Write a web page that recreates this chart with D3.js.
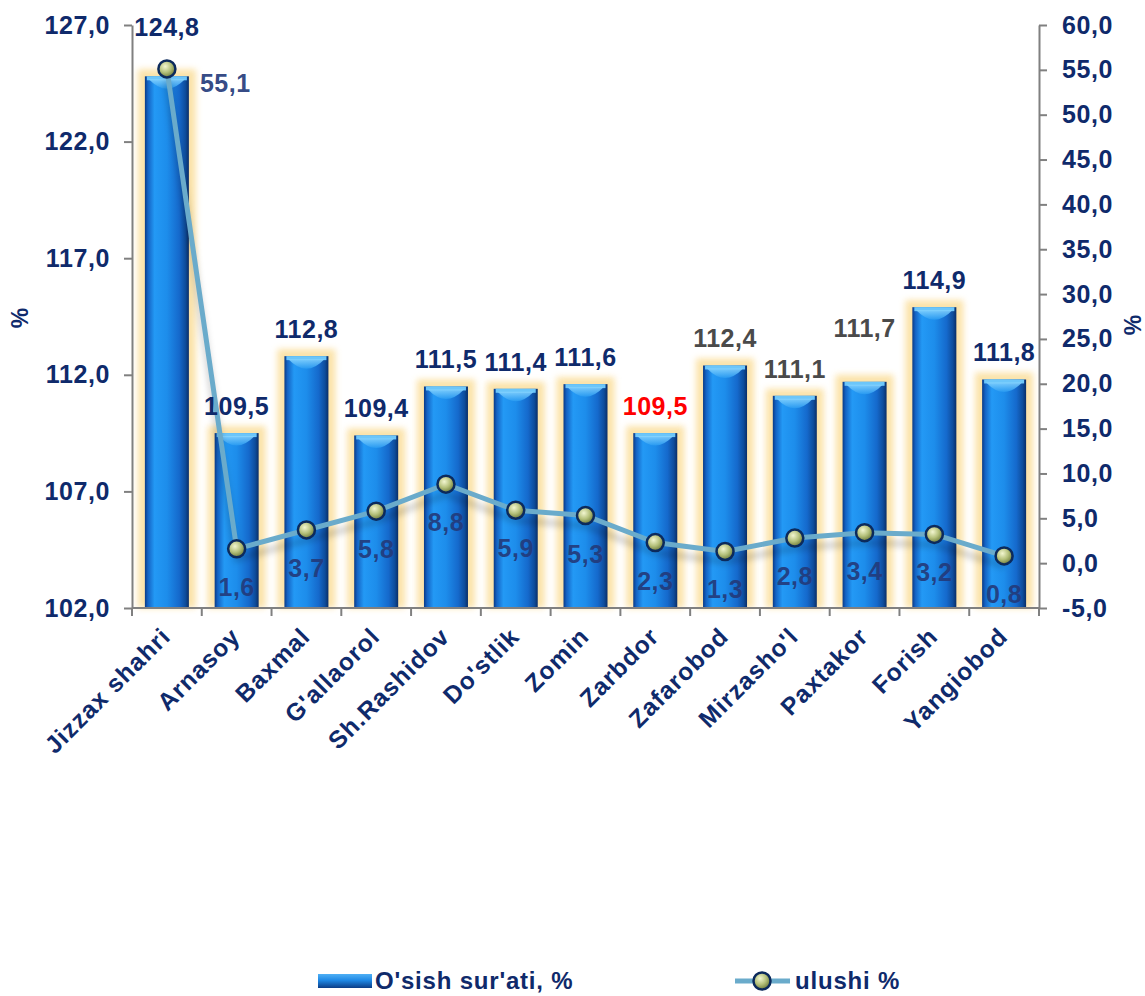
<!DOCTYPE html>
<html>
<head>
<meta charset="utf-8">
<script src="https://cdn.jsdelivr.net/npm/d3@7"></script>
<style>
  html, body { margin: 0; padding: 0; background: #ffffff; }
  svg { display: block; font-family: "Liberation Sans", Arial, sans-serif; font-weight: bold; }
</style>
</head>
<body>
<svg id="chart" width="1145" height="996"></svg>
<script>
// ---- data ----
const categories = ["Jizzax shahri", "Arnasoy", "Baxmal", "G'allaorol", "Sh.Rashidov", "Do'stlik", "Zomin", "Zarbdor", "Zafarobod", "Mirzasho'l", "Paxtakor", "Forish", "Yangiobod"];
const growthRate = [124.8, 109.5, 112.8, 109.4, 111.5, 111.4, 111.6, 109.5, 112.4, 111.1, 111.7, 114.9, 111.8];
const shareValues = [55.1, 1.6, 3.7, 5.8, 8.8, 5.9, 5.3, 2.3, 1.3, 2.8, 3.4, 3.2, 0.8];
const leftTickValues = [102, 107, 112, 117, 122, 127];
const rightTickValues = [-5, 0, 5, 10, 15, 20, 25, 30, 35, 40, 45, 50, 55, 60];
const seriesNames = ["O'sish sur'ati, %", "ulushi %"];
const axisTitle = "%";

// ---- style config ----
const navy = "#0f2a6b";
const grayLabel = "#4a4a4a";
const redLabel = "#ff0000";
const lineColor = "#6aabcb";
const grayLabelCats = new Set(["Zafarobod", "Mirzasho'l", "Paxtakor"]);
const redLabelCats = new Set(["Zarbdor"]);
const barLabelNudge = { "Jizzax shahri": -22, "Paxtakor": -27 };

const fmt = v => v.toFixed(1).replace(".", ",");

const margin = { left: 132, right: 1145 - 1039, top: 25, bottom: 996 - 608 };
const W = 1145, H = 996;
const svg = d3.select("#chart");

const x = d3.scaleBand().domain(categories).range([margin.left, W - margin.right]).paddingInner(0).paddingOuter(0);
const yL = d3.scaleLinear().domain([102, 127]).range([H - margin.bottom, margin.top]);
const yR = d3.scaleLinear().domain([-5, 60]).range([H - margin.bottom, margin.top]);

// ---- defs ----
const defs = svg.append("defs");
const barGrad = defs.append("linearGradient").attr("id", "barGrad").attr("x1", "0").attr("x2", "1").attr("y1", "0").attr("y2", "0");
[["0%", "#0a3a86"], ["7%", "#1463c4"], ["22%", "#2399f5"], ["50%", "#1d8deb"], ["78%", "#1569cc"], ["92%", "#0e4d9c"], ["100%", "#0a2e68"]]
  .forEach(([o, c]) => barGrad.append("stop").attr("offset", o).attr("stop-color", c));
const capGrad = defs.append("linearGradient").attr("id", "capGrad").attr("x1", "0").attr("x2", "0").attr("y1", "0").attr("y2", "1");
[["0%", "#8ad6ff"], ["100%", "#2a9cf2"]].forEach(([o, c]) => capGrad.append("stop").attr("offset", o).attr("stop-color", c));
const legGrad = defs.append("linearGradient").attr("id", "legGrad").attr("x1", "0").attr("x2", "0").attr("y1", "0").attr("y2", "1");
[["0%", "#4fb0f5"], ["45%", "#1e88e5"], ["100%", "#0b3c86"]].forEach(([o, c]) => legGrad.append("stop").attr("offset", o).attr("stop-color", c));
const mk = defs.append("radialGradient").attr("id", "mkGrad").attr("cx", "40%").attr("cy", "35%").attr("r", "65%");
[["0%", "#f2f6d0"], ["55%", "#b4c07a"], ["100%", "#6f7c3c"]].forEach(([o, c]) => mk.append("stop").attr("offset", o).attr("stop-color", c));
defs.append("filter").attr("id", "glow").attr("x", "-50%").attr("y", "-20%").attr("width", "200%").attr("height", "140%")
  .append("feGaussianBlur").attr("stdDeviation", 3);
defs.append("filter").attr("id", "shadowBlur").attr("x", "-10%").attr("y", "-10%").attr("width", "120%").attr("height", "120%")
  .append("feGaussianBlur").attr("stdDeviation", 3);

// ---- bars ----
const barW = 44;
const bx = d => x(d) + (x.bandwidth() - barW) / 2;
const base = yL(102);
const bars = svg.append("g");
categories.forEach((c, i) => {
  const top = yL(growthRate[i]);
  bars.append("rect").attr("x", bx(c) - 7).attr("y", top - 7).attr("width", barW + 14).attr("height", base - top + 7)
    .attr("fill", "#fbe0a0").attr("opacity", 0.9).attr("filter", "url(#glow)");
});
categories.forEach((c, i) => {
  const top = yL(growthRate[i]);
  bars.append("rect").attr("x", bx(c)).attr("y", top).attr("width", barW).attr("height", base - top).attr("fill", "url(#barGrad)");
  bars.append("rect").attr("x", bx(c) + 2).attr("y", top).attr("width", barW - 4).attr("height", 4).attr("fill", "#6cc6fa");
  const x0 = bx(c) + 4, x1 = bx(c) + barW - 4, xm = bx(c) + barW / 2;
  bars.append("path").attr("d", `M${x0},${top + 3} Q${xm},${top + 22} ${x1},${top + 3} Z`).attr("fill", "url(#capGrad)").attr("opacity", 0.85);
});

// ---- axes ----
const axisColor = "#808080";
const gL = svg.append("g").attr("transform", `translate(${margin.left},0)`)
  .call(d3.axisLeft(yL).tickValues(leftTickValues).tickSize(8).tickSizeOuter(0).tickPadding(14).tickFormat(fmt));
const gR = svg.append("g").attr("transform", `translate(${W - margin.right},0)`)
  .call(d3.axisRight(yR).tickValues(rightTickValues).tickSize(8).tickSizeOuter(0).tickPadding(15).tickFormat(fmt));
[gL, gR].forEach(g => {
  g.select(".domain").attr("stroke", axisColor).attr("stroke-width", 2);
  g.selectAll(".tick line").attr("stroke", axisColor).attr("stroke-width", 2);
  g.selectAll(".tick text").attr("fill", navy).style("font-size", "25px").style("font-weight", "bold")
    .style("letter-spacing", "0.6px").attr("font-family", "Liberation Sans, Arial, sans-serif");
});

// bottom axis with boundary ticks
const gB = svg.append("g");
gB.append("line").attr("x1", margin.left).attr("x2", W - margin.right).attr("y1", base).attr("y2", base)
  .attr("stroke", axisColor).attr("stroke-width", 2);
d3.range(categories.length + 1).forEach(k => {
  const xx = margin.left + k * x.step();
  gB.append("line").attr("x1", xx).attr("x2", xx).attr("y1", base).attr("y2", base + 8).attr("stroke", axisColor).attr("stroke-width", 2);
});
categories.forEach(c => {
  const cx = x(c) + x.bandwidth() / 2 - 1;
  gB.append("text").attr("transform", `translate(${cx},${base + 24}) rotate(-45)`)
    .attr("text-anchor", "end").attr("dy", "0.35em").attr("fill", navy)
    .style("font-size", "24.5px").style("letter-spacing", "1px").text(c);
});

// axis titles
svg.append("text").attr("transform", `translate(20,318) rotate(-90)`).attr("text-anchor", "middle").attr("dy", "0.35em")
  .attr("fill", navy).style("font-size", "23px").text(axisTitle);
svg.append("text").attr("transform", `translate(1133,325) rotate(-90)`).attr("text-anchor", "middle").attr("dy", "0.35em")
  .attr("fill", navy).style("font-size", "23px").text(axisTitle);

// ---- line ----
const cxOf = c => x(c) + x.bandwidth() / 2;
const pts = categories.map((c, i) => [cxOf(c), yR(shareValues[i])]);
const lineGen = d3.line();
svg.append("path").attr("d", lineGen(pts)).attr("fill", "none").attr("stroke", "#000").attr("stroke-opacity", 0.18)
  .attr("stroke-width", 6).attr("transform", "translate(0,10)").attr("filter", "url(#shadowBlur)");
svg.append("path").attr("d", lineGen(pts)).attr("fill", "none").attr("stroke", lineColor).attr("stroke-width", 5)
  .attr("stroke-linejoin", "round");
pts.forEach(p => {
  svg.append("circle").attr("cx", p[0]).attr("cy", p[1]).attr("r", 8.5)
    .attr("fill", "url(#mkGrad)").attr("stroke", "#0c2a5c").attr("stroke-width", 2.5);
});

// ---- labels ----
categories.forEach((c, i) => {
  const col = redLabelCats.has(c) ? redLabel : (grayLabelCats.has(c) ? grayLabel : navy);
  svg.append("text").attr("x", cxOf(c)).attr("y", yL(growthRate[i]) - 18 + (barLabelNudge[c] || 0))
    .attr("text-anchor", "middle").attr("fill", col).style("font-size", "25px").style("letter-spacing", "0.5px")
    .text(fmt(growthRate[i]));
});
categories.forEach((c, i) => {
  const p = pts[i];
  const isTop = i === d3.maxIndex(shareValues);
  svg.append("text")
    .attr("x", isTop ? p[0] + 33 : p[0]).attr("y", isTop ? p[1] + 23 : p[1] + 47)
    .attr("text-anchor", isTop ? "start" : "middle").attr("fill", "#233a7a").attr("fill-opacity", 0.92)
    .style("font-size", "25px").style("letter-spacing", "0.5px").text(fmt(shareValues[i]));
});

// ---- legend ----
const leg = svg.append("g");
leg.append("rect").attr("x", 318).attr("y", 974).attr("width", 54).attr("height", 14).attr("fill", "url(#legGrad)");
leg.append("text").attr("x", 375).attr("y", 989).attr("fill", navy).style("font-size", "24px").style("letter-spacing", "0.8px").text(seriesNames[0]);
leg.append("line").attr("x1", 735).attr("x2", 790).attr("y1", 981).attr("y2", 981).attr("stroke", lineColor).attr("stroke-width", 5);
leg.append("circle").attr("cx", 762).attr("cy", 981).attr("r", 8.5).attr("fill", "url(#mkGrad)").attr("stroke", "#0c2a5c").attr("stroke-width", 2.5);
leg.append("text").attr("x", 795).attr("y", 989).attr("fill", navy).style("font-size", "24px").style("letter-spacing", "0.8px").text(seriesNames[1]);
</script>
</body>
</html>
